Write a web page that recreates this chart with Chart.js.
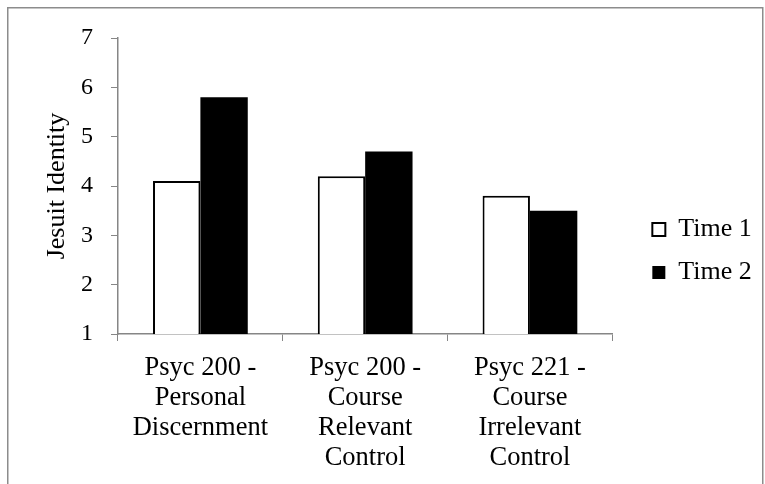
<!DOCTYPE html>
<html>
<head>
<meta charset="utf-8">
<script src="https://cdn.jsdelivr.net/npm/chart.js@4"></script>
<style>
html,body{margin:0;padding:0;background:#fff;}
canvas{display:block;}
</style>
</head>
<body>
<canvas id="c" width="765" height="484"></canvas>
<script>
const categories = [
  ["Psyc 200 -", "Personal", "Discernment"],
  ["Psyc 200 -", "Course", "Relevant", "Control"],
  ["Psyc 221 -", "Course", "Irrelevant", "Control"]
];
const time1 = [4.1, 4.2, 3.8];
const time2 = [5.8, 4.7, 3.5];
const seriesNames = ["Time 1", "Time 2"];
const yTicks = [1, 2, 3, 4, 5, 6, 7];
const axisTitle = "Jesuit Identity";

const FONT = "'Liberation Serif', 'Times New Roman', serif";
const AXIS = "#868686";

const frame = {
  id: 'frame',
  beforeDraw(chart) {
    const ctx = chart.ctx;
    ctx.save();
    ctx.fillStyle = '#fff';
    ctx.fillRect(0, 0, chart.width, chart.height);
    ctx.strokeStyle = '#8c8c8c';
    ctx.lineWidth = 1.5;
    ctx.strokeRect(7.75, 7.75, 755, 520);
    ctx.restore();
  }
};

new Chart(document.getElementById('c'), {
  type: 'bar',
  data: {
    labels: categories,
    datasets: [
      { label: seriesNames[0], data: time1, backgroundColor: '#ffffff', borderColor: '#000000', borderWidth: 2, yAxisID: 'y' },
      { label: seriesNames[1], data: time2, backgroundColor: '#000000', borderColor: '#000000', borderWidth: 0, yAxisID: 'y' }
    ]
  },
  plugins: [frame],
  options: {
    responsive: false,
    devicePixelRatio: 1,
    animation: false,
    layout: { padding: { left: 42, top: 38, right: 11, bottom: 0 } },
    datasets: { bar: { categoryPercentage: 0.575, barPercentage: 1.0 } },
    plugins: {
      tooltip: { enabled: false },
      legend: {
        position: 'right',
        align: 'start',
        title: { display: true, text: ' ', font: { size: 10, lineHeight: 1 }, padding: { top: 151.5, bottom: 0 } },
        labels: {
          boxWidth: 13, boxHeight: 13, padding: 17,
          color: '#000',
          font: { family: FONT, size: 26 }
        }
      }
    },
    scales: {
      x: {
        grid: { display: true, drawOnChartArea: false, drawTicks: true, tickLength: 7, color: AXIS, offset: true },
        border: { color: AXIS, width: 1.5 },
        ticks: { color: '#000', padding: 12, maxRotation: 0, autoSkip: false, font: { family: FONT, size: 26.5, lineHeight: 30 / 26.5 } },
        afterFit(axis) { axis.height = 150; axis.paddingLeft = 0; axis.paddingRight = 0; }
      },
      y: {
        min: 1, max: 7,
        afterBuildTicks(axis) { axis.ticks = yTicks.map(v => ({ value: v })); },
        grid: { display: true, drawOnChartArea: false, drawTicks: true, tickLength: 7, color: AXIS },
        border: { color: AXIS, width: 1.5 },
        ticks: { color: '#000', padding: 18, font: { family: FONT, size: 24 } },
        title: { display: true, text: axisTitle, color: '#000', padding: { top: 0, bottom: 0 }, font: { family: FONT, size: 26 } },
        afterFit(axis) { axis.width = 76; }
      },
      gap: {
        type: 'linear', position: 'right', display: true,
        grid: { display: false }, border: { display: false }, ticks: { display: false },
        afterFit(axis) { axis.width = 23; }
      }
    }
  }
});
</script>
</body>
</html>
